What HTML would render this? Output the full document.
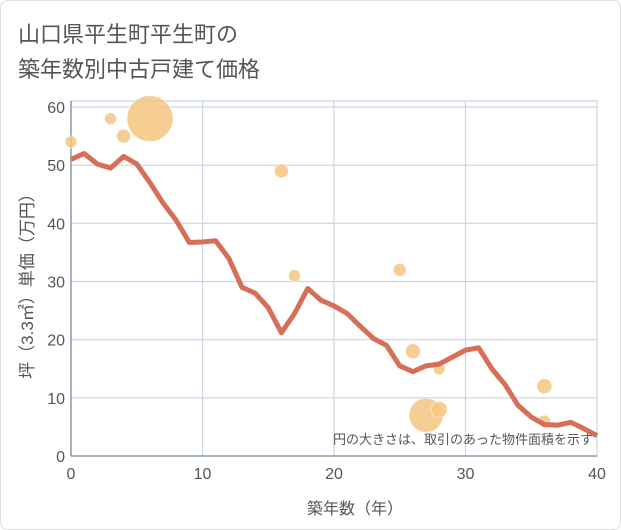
<!DOCTYPE html>
<html><head><meta charset="utf-8"><style>
body{margin:0;background:#fff;font-family:"Liberation Sans","Noto Sans CJK JP",sans-serif}
#wrap{position:absolute;left:0;top:0;width:619px;height:528px;border:1px solid #ddd;border-radius:8px;background:#fff}
</style></head><body>
<div id="wrap">
<svg width="621" height="530" style="position:absolute;left:-1px;top:-1px">
<text x="18" y="42" font-size="22" fill="#555">山口県平生町平生町の</text>
<text x="18" y="77" font-size="22" fill="#555">築年数別中古戸建て価格</text>
<g id="grid"></g><g id="bubbles"></g><g id="line"></g><g id="axes"></g>
<text x="593" y="444" font-size="13" fill="#555" text-anchor="end">円の大きさは、取引のあった物件面積を示す</text>
<text x="355" y="514" font-size="16" fill="#555" text-anchor="middle">築年数（年）</text>
<text transform="translate(33,282) rotate(-90)" font-size="17" fill="#555" text-anchor="middle">坪（3.3㎡）単価（万円）</text>
</svg></div>
<script>
const years=[0,1,2,3,4,5,6,7,8,9,10,11,12,13,14,15,16,17,18,19,20,21,22,23,24,25,26,27,28,29,30,31,32,33,34,35,36,37,38,39,40];
const prices=[51,52,50.2,49.5,51.5,50.2,47,43.5,40.5,36.7,36.8,37,34,29,28,25.5,21.2,24.5,28.8,26.8,25.8,24.5,22.3,20.2,19,15.5,14.5,15.5,15.8,17,18.2,18.6,15,12.3,8.7,6.7,5.4,5.3,5.8,4.7,3.5];
const bubbleX=[0,3,4,6,16,17,25,26,28,27,28,36,36];
const bubbleY=[54,58,55,58,49,31,32,18,15,7,8,12,6];
const bubbleR=[6,6,7,23,7,6,6.5,7.5,6,17,8,7.5,6];
const xTicks=[0,10,20,30,40];
const yTicks=[0,10,20,30,40,50,60];
const L=71,R=597,T=101,B=456;
const xs=v=>L+v/40*(R-L), ys=v=>B-v/60*(B-107);
const NS="http://www.w3.org/2000/svg";
function mk(t,a,p){const e=document.createElementNS(NS,t);for(const k in a)e.setAttribute(k,a[k]);p.appendChild(e);return e;}
const g=document.getElementById('grid');
mk('rect',{x:L,y:T,width:R-L,height:B-T,fill:'none',stroke:'#b8c4d4'},g);
yTicks.forEach(v=>{const l=mk('line',{x1:L,x2:R,y1:ys(v),y2:ys(v),stroke:'#cbd5e3','stroke-width':1.2},g);


const t=mk('text',{x:L-6,y:ys(v)+6,'font-size':16,fill:'#555','text-anchor':'end'},g);t.textContent=v;

});
xTicks.forEach(v=>{const l=mk('line',{x1:xs(v),x2:xs(v),y1:T,y2:B,stroke:'#cbd5e3','stroke-width':1.2},g);


const t=mk('text',{x:xs(v),y:B+23,'font-size':16,fill:'#555','text-anchor':'middle'},g);t.textContent=v;

});
mk('line',{x1:L,x2:L,y1:T,y2:B,stroke:'#8a9bb0','stroke-width':1.5},g);
mk('line',{x1:L,x2:R,y1:B,y2:B,stroke:'#8a9bb0','stroke-width':1.5},g);
const bg=document.getElementById('bubbles');
bubbleX.forEach((x,i)=>{const c=mk('circle',{cx:xs(x),cy:ys(bubbleY[i]),r:bubbleR[i],fill:'#f5c580','fill-opacity':0.85,stroke:'#fff','stroke-opacity':0.5},bg);

});
const lg=document.getElementById('line');
const p=mk('polyline',{points:years.map((y,i)=>xs(y)+','+ys(prices[i])).join(' '),fill:'none',stroke:'#d76f58','stroke-width':5,'stroke-linejoin':'round'},lg);


</script>
</body></html>
